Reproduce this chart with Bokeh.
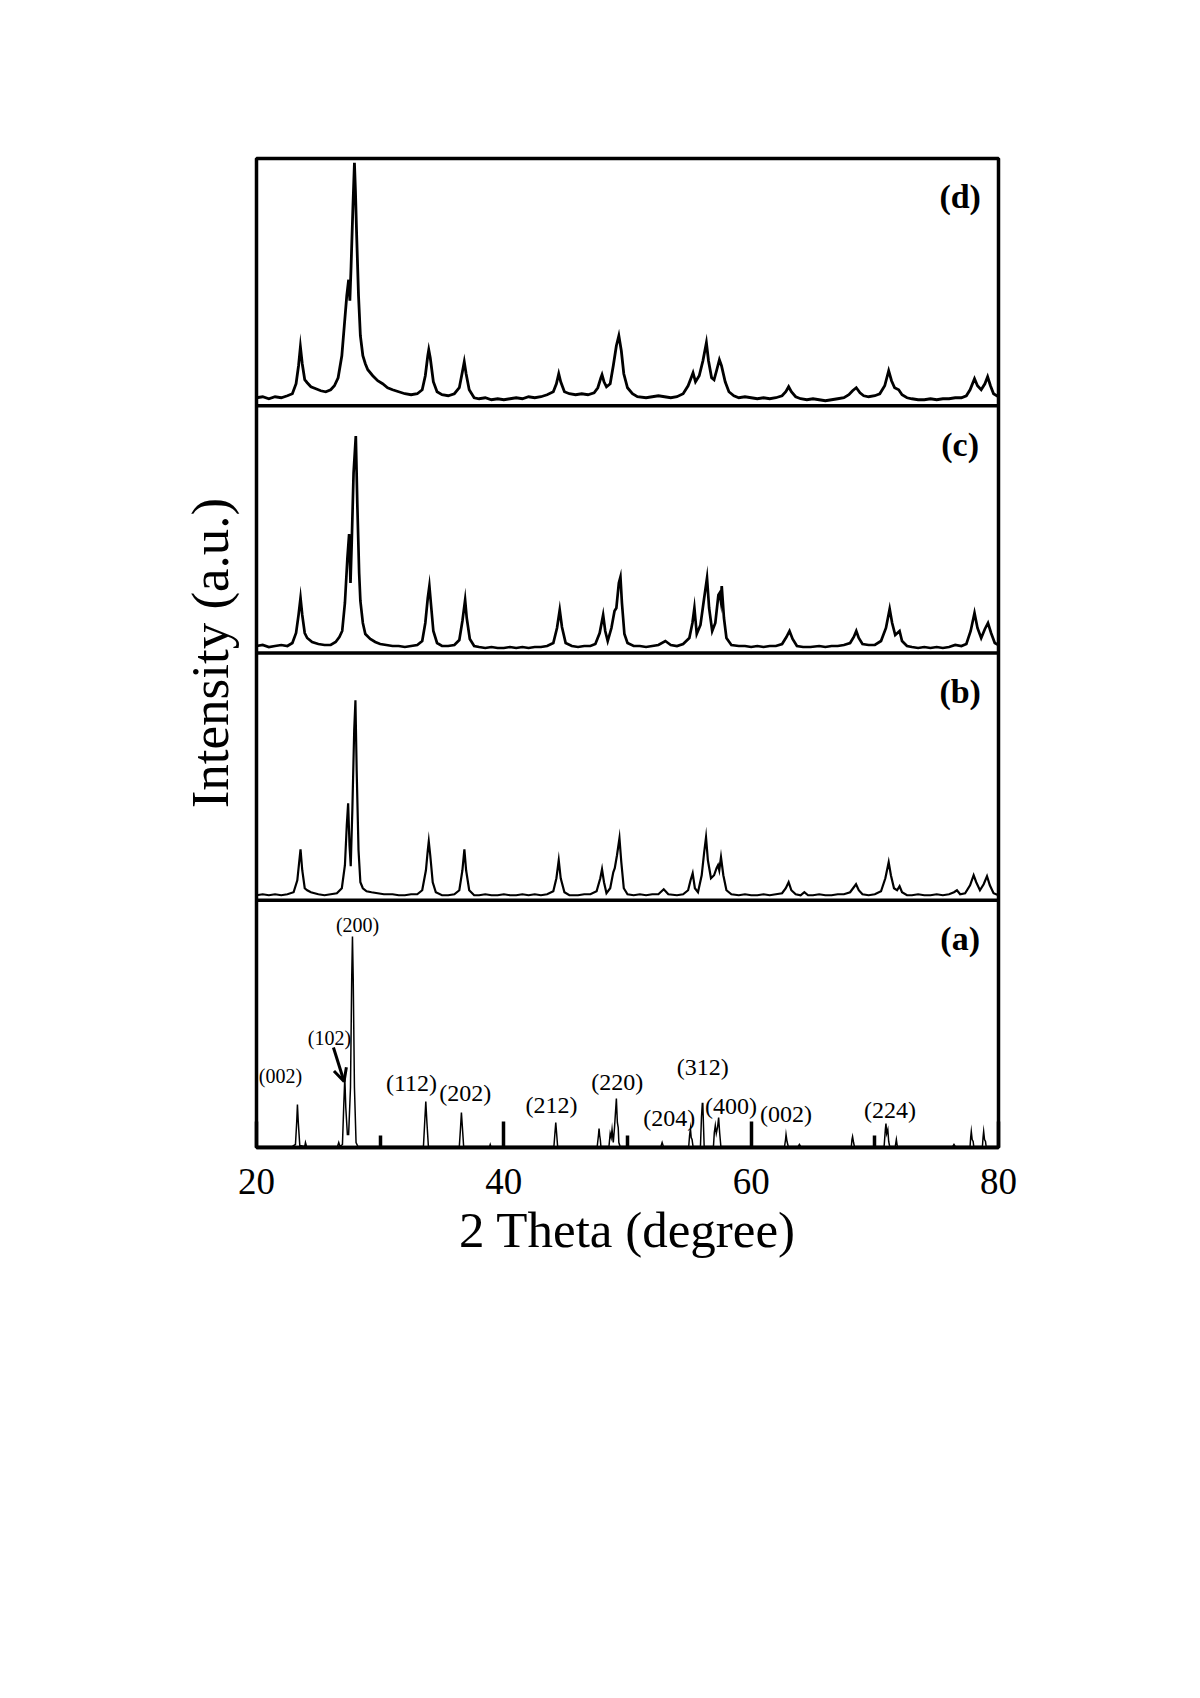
from bokeh.plotting import figure
from bokeh.models import Range1d, FixedTicker, Span, Label, Arrow, OpenHead
from bokeh.embed import file_html
from bokeh.resources import INLINE

# ---------------- data (2 theta in degree, intensity in a.u.) ----------------
pattern_d = [(20.0, 8), (20.5, 9), (21.0, 7), (21.5, 9), (22.0, 8), (22.5, 10), (22.9, 12), (23.2, 22),
             (23.4, 40), (23.55, 59), (23.7, 42), (23.9, 26), (24.1, 23), (24.4, 19), (24.8, 17), (25.2, 15),
             (25.6, 14), (26.0, 16), (26.3, 20), (26.6, 28), (26.9, 50), (27.1, 80), (27.3, 110), (27.45, 126),
             (27.55, 105), (27.65, 140), (27.8, 200), (27.92, 243), (28.0, 215), (28.1, 170), (28.25, 110),
             (28.4, 70), (28.6, 50), (28.8, 42), (29.0, 36), (29.4, 30), (29.8, 25), (30.2, 22), (30.6, 18),
             (31.0, 16), (31.5, 14), (32.0, 12), (32.5, 11), (33.0, 12), (33.4, 16), (33.65, 30), (33.85, 50),
             (33.93, 56), (34.05, 48), (34.3, 24), (34.6, 14), (35.0, 11), (35.5, 10), (36.0, 12), (36.4, 18),
             (36.65, 34), (36.8, 44), (36.95, 32), (37.2, 16), (37.6, 8), (38.0, 7), (38.5, 8), (39.0, 6),
             (39.5, 7), (40.0, 6), (40.5, 7), (41.0, 8), (41.5, 7), (42.0, 9), (42.5, 8), (43.0, 9), (43.5, 11),
             (44.0, 14), (44.25, 22), (44.44, 32), (44.6, 24), (44.9, 14), (45.3, 12), (45.8, 11), (46.3, 12),
             (46.8, 11), (47.3, 13), (47.6, 18), (47.85, 28), (47.94, 31), (48.1, 24), (48.3, 19), (48.6, 22),
             (48.85, 40), (49.1, 60), (49.3, 70), (49.5, 55), (49.7, 32), (50.0, 18), (50.4, 12), (50.8, 9),
             (51.5, 8), (52.0, 9), (52.5, 10), (53.0, 9), (53.5, 8), (54.0, 9), (54.5, 12), (54.9, 20),
             (55.15, 28), (55.3, 33), (55.5, 24), (55.8, 30), (56.1, 45), (56.38, 63), (56.55, 45), (56.8, 28),
             (57.0, 26), (57.2, 35), (57.43, 46), (57.6, 40), (57.9, 24), (58.2, 14), (58.6, 10), (59.0, 8),
             (59.5, 9), (60.0, 8), (60.5, 7), (61.0, 8), (61.5, 7), (62.0, 8), (62.5, 10), (62.8, 14),
             (63.03, 19), (63.25, 14), (63.6, 9), (64.0, 7), (64.5, 6), (65.0, 7), (65.5, 6), (66.0, 5),
             (66.5, 6), (67.0, 7), (67.5, 8), (67.9, 11), (68.2, 15), (68.5, 18), (68.8, 13), (69.1, 10),
             (69.5, 9), (70.0, 10), (70.4, 12), (70.8, 20), (71.12, 35), (71.35, 25), (71.6, 18), (71.93, 16),
             (72.2, 11), (72.6, 8), (73.0, 7), (73.5, 6), (74.0, 6), (74.5, 7), (75.0, 6), (75.5, 7), (76.0, 7),
             (76.5, 8), (77.0, 8), (77.4, 10), (77.7, 16), (78.06, 27), (78.3, 20), (78.6, 16), (78.9, 22),
             (79.12, 29), (79.35, 20), (79.6, 12), (80.0, 9)]

pattern_c = [(20.0, 7), (20.5, 8), (21.0, 6), (21.5, 7), (22.0, 8), (22.5, 7), (22.9, 10), (23.2, 20),
             (23.4, 38), (23.56, 55), (23.7, 38), (23.9, 20), (24.1, 15), (24.5, 11), (25.0, 9), (25.5, 8),
             (26.0, 8), (26.4, 11), (26.7, 16), (26.93, 22), (27.15, 50), (27.35, 95), (27.49, 119), (27.6, 70),
             (27.7, 110), (27.85, 180), (28.03, 217), (28.15, 150), (28.3, 80), (28.4, 52), (28.6, 30),
             (28.8, 19), (29.2, 14), (29.6, 11), (30.0, 9), (30.5, 8), (31.0, 7), (31.5, 7), (32.0, 6),
             (32.5, 7), (33.0, 8), (33.4, 12), (33.65, 30), (33.85, 55), (33.98, 67), (34.1, 50), (34.3, 22),
             (34.6, 10), (35.0, 7), (35.5, 7), (36.0, 8), (36.4, 13), (36.65, 32), (36.87, 53), (37.0, 35),
             (37.25, 14), (37.6, 7), (38.0, 6), (38.5, 5), (39.0, 6), (39.5, 5), (40.0, 5), (40.5, 6), (41.0, 5),
             (41.5, 6), (42.0, 5), (42.5, 6), (43.0, 6), (43.5, 7), (44.0, 10), (44.3, 25), (44.52, 43),
             (44.7, 26), (45.0, 10), (45.5, 7), (46.0, 6), (46.5, 7), (47.0, 7), (47.4, 9), (47.75, 20),
             (48.03, 38), (48.2, 22), (48.4, 12), (48.7, 25), (48.95, 42), (49.1, 45), (49.3, 70), (49.43, 76),
             (49.55, 50), (49.75, 19), (50.0, 10), (50.5, 7), (51.0, 7), (51.5, 6), (52.0, 7), (52.5, 8),
             (53.06, 12), (53.5, 8), (54.0, 7), (54.5, 9), (55.0, 15), (55.25, 30), (55.41, 45), (55.6, 19),
             (55.9, 28), (56.2, 55), (56.43, 75), (56.6, 45), (56.85, 22), (57.1, 30), (57.35, 58), (57.45, 60),
             (57.55, 52), (57.62, 67), (57.8, 35), (58.0, 15), (58.4, 8), (59.0, 7), (59.5, 7), (60.0, 6),
             (60.5, 7), (61.0, 6), (61.5, 7), (62.0, 7), (62.5, 9), (62.85, 16), (63.1, 22), (63.35, 14),
             (63.7, 7), (64.2, 6), (64.8, 6), (65.5, 7), (66.0, 6), (66.5, 7), (67.0, 7), (67.5, 8), (68.0, 10),
             (68.3, 16), (68.5, 22), (68.7, 15), (69.0, 9), (69.5, 8), (70.0, 8), (70.5, 12), (70.9, 25),
             (71.2, 44), (71.4, 30), (71.65, 18), (72.0, 22), (72.2, 12), (72.6, 7), (73.0, 6), (73.5, 5),
             (74.0, 6), (74.5, 5), (75.0, 6), (75.5, 5), (76.0, 6), (76.5, 8), (77.0, 7), (77.4, 9), (77.75, 22),
             (78.06, 40), (78.3, 25), (78.6, 15), (78.9, 24), (79.15, 30), (79.4, 20), (79.7, 10), (80.0, 8)]

pattern_b = [(20.0, 5), (20.5, 6), (21.0, 5), (21.5, 6), (22.0, 5), (22.5, 6), (23.0, 8), (23.3, 20),
             (23.45, 38), (23.56, 51), (23.7, 30), (23.9, 12), (24.1, 10), (24.4, 8), (25.0, 6), (25.5, 5),
             (26.0, 6), (26.5, 7), (26.9, 12), (27.15, 35), (27.3, 75), (27.41, 97), (27.52, 55), (27.62, 34),
             (27.75, 90), (27.9, 170), (28.0, 200), (28.1, 130), (28.25, 50), (28.4, 18), (28.6, 12), (28.9, 9),
             (29.3, 8), (29.8, 7), (30.3, 6), (31.0, 6), (31.5, 5), (32.0, 5), (32.5, 6), (33.0, 6), (33.4, 10),
             (33.7, 30), (33.85, 50), (33.93, 59), (34.05, 45), (34.25, 18), (34.5, 8), (35.0, 5), (35.5, 5),
             (36.0, 6), (36.4, 10), (36.65, 30), (36.81, 51), (36.95, 30), (37.2, 10), (37.6, 5), (38.0, 5),
             (38.5, 6), (39.0, 5), (39.5, 5), (40.0, 6), (40.5, 5), (41.0, 5), (41.5, 6), (42.0, 5), (42.5, 6),
             (43.0, 5), (43.5, 6), (44.0, 9), (44.25, 22), (44.44, 40), (44.6, 22), (44.9, 8), (45.3, 5),
             (46.0, 5), (46.5, 6), (47.0, 6), (47.5, 9), (47.8, 22), (47.94, 31), (48.1, 18), (48.3, 7),
             (48.6, 12), (48.85, 28), (48.97, 32), (49.15, 45), (49.35, 62), (49.5, 38), (49.7, 12), (50.0, 6),
             (50.5, 5), (51.0, 6), (51.5, 5), (52.0, 6), (52.5, 6), (52.93, 11), (53.3, 6), (54.0, 5), (54.5, 6),
             (54.9, 10), (55.1, 20), (55.27, 27), (55.45, 12), (55.7, 8), (56.0, 25), (56.2, 48), (56.35, 63),
             (56.5, 40), (56.75, 22), (57.0, 25), (57.2, 32), (57.32, 35), (57.42, 30), (57.56, 43), (57.75, 25),
             (58.0, 10), (58.4, 6), (59.0, 5), (59.5, 6), (60.0, 5), (60.5, 5), (61.0, 6), (61.5, 5), (62.0, 6),
             (62.5, 7), (62.8, 12), (63.03, 18), (63.25, 10), (63.6, 6), (64.0, 5), (64.3, 8), (64.6, 5),
             (65.0, 5), (65.5, 6), (66.0, 5), (66.5, 5), (67.0, 6), (67.5, 6), (68.0, 8), (68.3, 13),
             (68.48, 16), (68.7, 10), (69.0, 6), (69.5, 5), (70.0, 6), (70.5, 9), (70.85, 22), (71.12, 38),
             (71.3, 25), (71.55, 12), (71.8, 10), (72.0, 14), (72.2, 8), (72.6, 5), (73.0, 5), (73.5, 6),
             (74.0, 5), (74.5, 5), (75.0, 6), (75.5, 5), (76.0, 6), (76.4, 8), (76.64, 10), (76.9, 6), (77.3, 7),
             (77.7, 15), (77.99, 25), (78.2, 18), (78.5, 10), (78.8, 16), (79.07, 24), (79.3, 15), (79.6, 7),
             (80.0, 5)]

pattern_a = [(20.0, 1), (22.9, 1), (23.15, 3), (23.25, 25), (23.31, 43), (23.38, 25), (23.5, 2), (23.9, 1),
             (23.96, 5), (24.05, 1), (26.55, 1), (26.65, 5), (26.75, 1), (26.95, 3), (27.05, 40), (27.14, 70),
             (27.22, 40), (27.35, 13), (27.45, 13), (27.6, 60), (27.7, 170), (27.76, 211), (27.82, 170),
             (27.92, 60), (28.05, 5), (28.2, 1), (33.5, 1), (33.6, 25), (33.69, 46), (33.78, 25), (33.9, 1),
             (36.4, 1), (36.5, 20), (36.57, 35), (36.65, 20), (36.75, 1), (38.85, 1), (38.9, 3), (38.95, 1),
             (44.05, 1), (44.13, 14), (44.2, 25), (44.27, 14), (44.35, 1), (47.55, 1), (47.65, 12), (47.7, 19),
             (47.75, 12), (47.8, 8), (47.85, 1), (48.5, 1), (48.6, 14), (48.68, 10), (48.75, 18), (48.85, 5),
             (48.95, 20), (49.1, 49), (49.18, 25), (49.25, 20), (49.3, 5), (49.4, 1), (52.7, 1), (52.8, 5),
             (52.9, 1), (54.95, 1), (55.02, 12), (55.09, 19), (55.15, 10), (55.22, 8), (55.3, 1), (55.9, 1),
             (55.98, 30), (56.05, 44), (56.09, 44), (56.15, 20), (56.2, 1), (56.95, 1), (57.02, 15), (57.1, 22),
             (57.18, 14), (57.28, 20), (57.37, 30), (57.45, 15), (57.55, 1), (62.7, 1), (62.78, 8), (62.82, 13),
             (62.9, 6), (63.0, 1), (63.8, 1), (63.9, 3), (64.0, 1), (68.1, 1), (68.15, 8), (68.2, 11),
             (68.28, 5), (68.35, 1), (70.75, 1), (70.85, 18), (70.9, 24), (70.96, 14), (71.05, 18), (71.12, 6),
             (71.2, 1), (71.65, 1), (71.74, 8), (71.82, 1), (76.3, 1), (76.4, 3), (76.5, 1), (77.7, 1),
             (77.75, 10), (77.8, 16), (77.87, 8), (77.95, 6), (78.0, 1), (78.7, 1), (78.75, 10), (78.8, 16),
             (78.87, 8), (78.95, 6), (79.0, 1), (80.0, 1)]

panel_names = ["(a)", "(b)", "(c)", "(d)"]

# Miller indices marked on the reference pattern (a): label, 2theta, intensity
hkl_labels = ["(002)", "(102)", "(200)", "(112)", "(202)", "(212)", "(220)", "(312)", "(204)",
              "(400)", "(002)", "(224)"]
hkl_x = [21.94, 25.90, 28.17, 32.53, 36.87, 43.85, 49.18, 56.08, 53.37, 58.36, 62.81, 71.23]
hkl_y = [72, 110, 223, 64.5, 54.5, 43, 66, 81, 29.5, 42, 34, 38]
hkl_size = ["20px", "20px", "20px", "24px", "24px", "24px", "24px", "24px", "24px", "24px", "24px", "24px"]

x_ticks = [20, 40, 60, 80]
x_minor_ticks = [30, 50, 70]

# ---------------- figure ----------------
PANEL = 247.25
FONT = "Liberation Serif"

p = figure(frame_width=742, frame_height=989,
           x_range=Range1d(20, 80), y_range=Range1d(0, 4 * PANEL),
           output_backend="svg", toolbar_location=None,
           min_border_left=256, min_border_top=158, min_border_right=60, min_border_bottom=220,
           background_fill_color="white", border_fill_color="white")
p.grid.visible = False
p.outline_line_color = "black"
p.outline_line_width = 3.5

patterns = [pattern_a, pattern_b, pattern_c, pattern_d]
widths = [1.5, 2.2, 2.7, 2.8]
for i, pat in enumerate(patterns):
    xs = [pt[0] for pt in pat]
    ys = [pt[1] + i * PANEL for pt in pat]
    p.line(xs, ys, line_color="black", line_width=widths[i], line_join="miter")

for i in range(1, 4):
    p.add_layout(Span(location=i * PANEL, dimension="width", line_color="black", line_width=3.5))

for i, name in enumerate(panel_names):
    p.add_layout(Label(x=76.9, y=i * PANEL + 209, text=name, text_font=FONT, text_font_style="bold",
                       text_font_size="34px", text_align="center", text_baseline="middle",
                       text_color="black"))

for t, xx, yy, fs in zip(hkl_labels, hkl_x, hkl_y, hkl_size):
    p.add_layout(Label(x=xx, y=yy, text=t, text_font=FONT, text_font_size=fs,
                       text_align="center", text_baseline="middle", text_color="black"))

p.add_layout(Arrow(end=OpenHead(size=13, line_width=3, line_color="black"),
                   x_start=26.22, y_start=100, x_end=27.08, y_end=66,
                   line_width=3, line_color="black"))

# x axis
xa = p.xaxis[0]
xa.ticker = FixedTicker(ticks=x_ticks, minor_ticks=x_minor_ticks)
xa.major_tick_in = 26
xa.major_tick_out = 0
xa.minor_tick_in = 12
xa.minor_tick_out = 0
xa.major_tick_line_width = 3.5
xa.minor_tick_line_width = 3.5
xa.major_tick_line_color = "black"
xa.minor_tick_line_color = "black"
xa.axis_line_width = 3.5
xa.axis_line_color = "black"
xa.major_label_text_font = FONT
xa.major_label_text_font_size = "37px"
xa.major_label_text_color = "black"
xa.major_label_standoff = 21
xa.axis_label = "2 Theta (degree)"
xa.axis_label_text_font = FONT
xa.axis_label_text_font_size = "51px"
xa.axis_label_text_font_style = "normal"
xa.axis_label_text_color = "black"
xa.axis_label_standoff = 5

# y axis (no ticks)
ya = p.yaxis[0]
ya.ticker = FixedTicker(ticks=[])
ya.major_tick_out = 0
ya.major_tick_in = 0
ya.minor_tick_out = 0
ya.minor_tick_in = 0
ya.major_label_text_font_size = "0px"
ya.major_label_standoff = 0
ya.axis_line_color = None
ya.axis_label = "Intensity (a.u.)"
ya.axis_label_text_font = FONT
ya.axis_label_text_font_size = "53px"
ya.axis_label_text_font_style = "normal"
ya.axis_label_text_color = "black"
ya.axis_label_standoff = 18

open("out.html", "w").write(file_html(p, INLINE))
